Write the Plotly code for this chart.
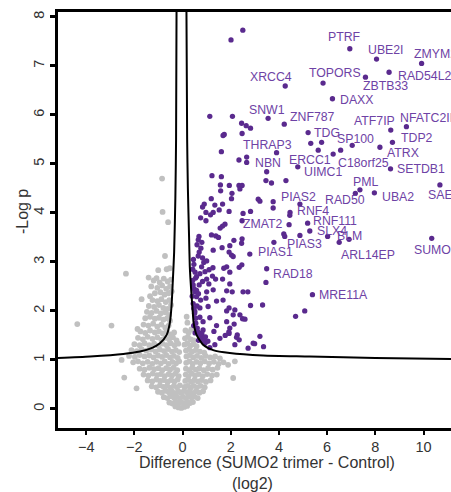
import plotly.graph_objects as go

# ---------------- data ----------------
gray_pts = [
    (-4.37, 1.73), (-2.95, 1.70), (-2.35, 2.76), (-0.85, 4.70), (-0.83, 4.02), (-0.60, 3.81),
    (-0.73, 3.12), (-1.01, 2.83), (-0.66, 2.85), (-0.53, 2.87), (-1.41, 2.68), (-1.08, 2.67),
    (-2.42, 0.64), (-1.91, 0.42), (-2.53, 1.00), (-1.87, 1.63), (-1.70, 2.24), (2.17, 0.97),
    (2.10, 0.63), (1.89, 0.90),
    (-1.20, 2.62), (-0.95, 2.58), (-0.78, 2.66), (-0.62, 2.60), (-0.48, 2.64),
    (-1.30, 2.50), (-1.05, 2.47), (-0.85, 2.52), (-0.68, 2.45), (-0.52, 2.50), (-0.45, 2.40),
    (-1.15, 2.36), (-0.92, 2.38), (-0.75, 2.33), (-0.58, 2.36), (-1.35, 2.30),
    (-1.25, 2.22), (-1.05, 2.20), (-0.88, 2.24), (-0.70, 2.18), (-0.55, 2.22), (-0.48, 2.12),
    (-1.40, 2.10), (-1.18, 2.08), (-0.98, 2.12), (-0.80, 2.06), (-0.62, 2.04),
    (-1.48, 1.98), (-1.28, 1.96), (-1.08, 2.00), (-0.90, 1.95), (-0.72, 1.97), (-0.56, 1.92),
    (-1.55, 1.85), (-1.35, 1.88), (-1.15, 1.84), (-0.98, 1.86), (-0.80, 1.82), (-0.64, 1.85), (-0.52, 1.80),
    (-1.62, 1.72), (-1.42, 1.70), (-1.22, 1.74), (-1.05, 1.68), (-0.88, 1.72), (-0.72, 1.66), (-0.58, 1.70),
    (0.17, 1.88), (0.20, 1.76),
    (-1.75, 1.58), (-1.55, 1.55), (-1.35, 1.60), (-1.15, 1.56), (-0.98, 1.58), (-0.82, 1.54), (-0.66, 1.58),
    (-0.50, 1.52), (-0.35, 1.56), (0.12, 1.60), (0.25, 1.56), (0.36, 1.62),
    (-1.85, 1.45), (-1.65, 1.42), (-1.45, 1.47), (-1.25, 1.43), (-1.05, 1.46), (-0.88, 1.41), (-0.72, 1.45),
    (-0.56, 1.42), (-0.40, 1.46), (-0.25, 1.40), (0.10, 1.44), (0.22, 1.47), (0.34, 1.42), (0.46, 1.40),
    (-2.00, 1.32), (-1.78, 1.30), (-1.58, 1.34), (-1.38, 1.30), (-1.18, 1.33), (-1.00, 1.29), (-0.83, 1.33),
    (-0.66, 1.30), (-0.50, 1.34), (-0.34, 1.30), (-0.18, 1.33), (0.08, 1.31), (0.20, 1.34), (0.32, 1.29),
    (0.45, 1.32), (0.58, 1.28),
    (-2.12, 1.20), (-1.90, 1.18), (-1.70, 1.22), (-1.50, 1.19), (-1.30, 1.21), (-1.12, 1.17), (-0.94, 1.21),
    (-0.77, 1.18), (-0.60, 1.22), (-0.44, 1.17), (-0.28, 1.20), (-0.14, 1.16), (0.14, 1.19), (0.27, 1.22),
    (0.40, 1.17), (0.55, 1.20), (0.72, 1.17), (0.90, 1.15),
    (-2.22, 1.08), (-1.98, 1.06), (-1.78, 1.10), (-1.58, 1.07), (-1.38, 1.09), (-1.20, 1.05), (-1.02, 1.09),
    (-0.85, 1.06), (-0.68, 1.10), (-0.52, 1.05), (-0.36, 1.08), (-0.20, 1.04), (0.16, 1.07), (0.30, 1.10),
    (0.44, 1.05), (0.60, 1.08), (0.78, 1.04), (0.96, 1.08), (1.15, 1.05), (1.35, 1.07), (1.55, 1.03),
    (-2.05, 0.95), (-1.85, 0.97), (-1.65, 0.93), (-1.45, 0.96), (-1.26, 0.92), (-1.08, 0.96), (-0.90, 0.93),
    (-0.74, 0.97), (-0.58, 0.92), (-0.42, 0.96), (-0.27, 0.93), (-0.14, 0.97), (0.15, 0.94), (0.28, 0.97),
    (0.42, 0.92), (0.58, 0.96), (0.74, 0.93), (0.92, 0.97), (1.10, 0.93), (1.30, 0.96), (1.50, 0.92), (1.70, 0.95),
    (-1.78, 0.82), (-1.58, 0.80), (-1.38, 0.84), (-1.18, 0.81), (-1.00, 0.83), (-0.84, 0.79), (-0.68, 0.83),
    (-0.52, 0.80), (-0.37, 0.84), (-0.22, 0.79), (0.14, 0.82), (0.27, 0.79), (0.40, 0.84), (0.55, 0.80),
    (0.70, 0.83), (0.88, 0.79), (1.06, 0.83), (1.25, 0.80), (1.45, 0.84),
    (-1.62, 0.70), (-1.42, 0.68), (-1.24, 0.72), (-1.06, 0.69), (-0.90, 0.71), (-0.74, 0.67), (-0.58, 0.71),
    (-0.44, 0.68), (-0.30, 0.72), (-0.16, 0.67), (0.13, 0.70), (0.25, 0.67), (0.38, 0.72), (0.52, 0.68),
    (0.67, 0.71), (0.84, 0.67), (1.02, 0.71), (1.22, 0.68), (1.42, 0.70),
    (-1.45, 0.58), (-1.26, 0.56), (-1.09, 0.60), (-0.93, 0.57), (-0.77, 0.59), (-0.62, 0.55), (-0.48, 0.59),
    (-0.34, 0.56), (-0.20, 0.60), (0.11, 0.57), (0.23, 0.60), (0.35, 0.55), (0.49, 0.59), (0.64, 0.56),
    (0.80, 0.59), (0.97, 0.55), (1.16, 0.58),
    (-1.28, 0.46), (-1.10, 0.44), (-0.94, 0.48), (-0.79, 0.45), (-0.64, 0.47), (-0.50, 0.43), (-0.36, 0.47),
    (-0.23, 0.44), (-0.11, 0.48), (0.09, 0.45), (0.21, 0.47), (0.33, 0.43), (0.46, 0.47), (0.60, 0.44),
    (0.75, 0.47), (0.92, 0.44),
    (-1.02, 0.35), (-0.86, 0.33), (-0.71, 0.37), (-0.57, 0.34), (-0.44, 0.36), (-0.31, 0.32), (-0.18, 0.36),
    (-0.06, 0.33), (0.06, 0.37), (0.18, 0.34), (0.30, 0.36), (0.42, 0.32), (0.55, 0.36), (0.70, 0.33), (0.85, 0.36),
    (-0.78, 0.24), (-0.63, 0.22), (-0.49, 0.26), (-0.36, 0.23), (-0.23, 0.25), (-0.11, 0.21), (0.01, 0.25),
    (0.13, 0.22), (0.25, 0.26), (0.37, 0.23), (0.50, 0.25), (0.63, 0.22),
    (-0.55, 0.13), (-0.42, 0.11), (-0.29, 0.15), (-0.17, 0.12), (-0.05, 0.14), (0.07, 0.11), (0.19, 0.15),
    (0.31, 0.12), (0.43, 0.14),
    (-0.30, 0.05), (-0.17, 0.03), (-0.05, 0.02), (0.07, 0.04), (0.19, 0.06),
]

purple_pts = [
    (2.50, 7.73), (2.01, 7.53), (1.13, 5.97), (2.07, 5.97), (2.45, 5.83), (2.64, 5.78), (2.82, 5.73),
    (1.73, 5.60), (1.68, 5.58), (2.47, 5.62), (6.56, 5.28), (5.32, 5.42), (5.77, 5.44), (1.61, 5.25),
    (2.34, 5.08), (2.66, 5.14), (3.49, 4.84), (3.46, 4.66), (3.69, 4.61), (4.29, 4.66), (1.22, 4.76),
    (1.61, 4.74), (1.57, 4.57), (1.94, 4.56), (2.34, 4.56), (2.47, 4.56), (2.38, 4.49), (1.58, 4.45),
    (2.05, 4.40), (2.03, 4.29), (1.19, 4.29), (3.14, 4.28), (3.21, 4.24), (4.87, 4.18), (0.90, 4.18),
    (0.83, 4.12), (1.34, 4.16), (1.66, 4.18), (1.52, 4.06), (1.93, 4.03), (1.27, 4.01), (1.16, 3.96),
    (0.97, 4.01), (2.82, 4.03), (2.51, 3.99), (3.76, 4.10), (4.45, 3.95), (0.97, 3.84), (2.47, 3.84),
    (1.76, 3.77), (1.66, 3.73), (1.56, 3.69), (1.20, 3.55), (1.38, 3.53), (1.49, 3.50), (0.68, 3.52),
    (2.13, 3.44), (2.47, 3.47), (2.45, 3.38), (1.96, 3.33), (1.64, 3.29), (4.20, 3.57), (4.24, 3.52),
    (3.79, 3.40), (6.91, 3.46), (0.76, 3.28), (0.69, 3.20), (1.27, 3.24), (1.93, 3.20), (2.03, 3.14),
    (2.10, 3.11), (0.65, 3.12), (0.83, 3.08), (0.88, 2.99), (1.00, 3.02), (0.79, 2.90), (1.83, 2.90),
    (1.71, 2.87), (2.46, 2.94), (2.35, 2.89), (1.26, 2.88), (1.10, 2.84), (0.52, 2.79), (0.93, 2.80),
    (0.72, 2.76), (1.24, 2.71), (1.96, 2.79), (0.54, 2.67), (0.83, 2.60), (1.00, 2.65), (1.37, 2.65),
    (1.66, 2.65), (0.44, 2.53), (0.69, 2.53), (1.09, 2.55), (1.96, 2.55), (2.06, 2.39), (1.83, 2.41),
    (2.51, 2.39), (2.71, 2.39), (3.46, 2.58), (1.27, 2.43), (1.00, 2.39), (0.51, 2.39), (0.58, 2.29),
    (0.75, 2.22), (1.41, 2.20), (1.68, 2.22), (0.97, 2.26), (1.06, 2.09), (0.72, 2.06), (2.82, 2.11),
    (3.32, 2.12), (2.17, 2.02), (1.83, 2.00), (2.38, 1.92), (2.49, 1.84), (0.51, 1.99), (0.55, 1.85),
    (0.72, 1.87), (0.85, 1.78), (1.13, 1.86), (1.41, 1.70), (1.83, 1.78), (1.96, 1.65), (1.30, 1.58),
    (0.85, 1.61), (0.83, 1.48), (0.61, 1.65), (1.93, 1.54), (2.27, 1.51), (3.21, 1.48), (2.93, 1.34),
    (2.72, 1.24), (2.35, 1.41), (1.55, 1.44), (1.34, 1.31), (0.93, 1.34), (1.13, 1.25), (5.07, 2.00),
    (4.69, 1.89), (3.36, 1.27), (2.99, 1.33), (2.17, 1.31), (1.77, 1.50), (2.24, 1.46), (1.92, 1.57),
    (2.14, 1.73), (2.10, 1.92), (2.59, 1.83), (1.93, 2.06),
    (0.45, 3.05), (0.47, 2.95), (0.42, 2.62), (0.48, 2.45), (0.40, 2.30), (0.44, 2.15), (0.47, 2.05),
    (0.50, 1.95), (0.55, 1.75), (0.62, 1.58), (0.70, 1.50), (0.78, 1.42), (0.90, 1.38), (0.60, 3.35),
    (0.65, 3.45), (0.80, 3.40), (0.75, 3.90), (0.42, 2.85), (0.58, 2.70), (0.46, 1.70), (0.60, 2.10),
    (0.52, 1.55), (0.66, 1.40), (0.80, 1.55), (0.95, 1.47), (1.05, 1.38), (0.58, 2.42), (0.66, 2.35),
]

labeled_gene = ["PTRF", "UBE2I", "ZMYM2", "TOPORS", "ZBTB33", "RAD54L2", "XRCC4", "DAXX",
                "SNW1", "ZNF787", "TDG", "ATF7IP", "NFATC2IP", "TDP2", "ATRX", "SP100",
                "C18orf25", "ERCC1", "UIMC1", "THRAP3", "NBN", "PML", "RAD50", "UBA2",
                "SAE1", "SETDB1", "PIAS2", "RNF4", "ZMAT2", "RNF111", "SLX4", "BLM",
                "PIAS3", "ARL14EP", "PIAS1", "SUMO3", "RAD18", "MRE11A"]
labeled_x = [6.94, 8.05, 9.92, 5.83, 7.59, 8.57, 4.26, 6.22,
             3.55, 4.22, 5.21, 8.64, 9.29, 8.71, 8.19, 7.04,
             6.25, 5.63, 4.78, 3.90, 2.66, 7.36, 7.17, 7.96,
             10.68, 8.63, 3.76, 4.46, 4.42, 5.19, 5.28, 6.02,
             4.87, 6.50, 2.79, 10.34, 3.49, 5.39]
labeled_y = [7.35, 7.14, 7.05, 6.65, 6.77, 6.87, 6.59, 6.33,
             5.93, 5.81, 5.64, 5.69, 5.76, 5.44, 5.34, 5.38,
             5.20, 5.28, 4.94, 5.23, 5.03, 4.47, 4.40, 4.41,
             4.57, 4.90, 4.23, 4.01, 3.76, 3.79, 3.63, 3.52,
             3.54, 3.40, 3.16, 3.48, 2.86, 2.33]

# significance threshold curve
curve_left_x = [-5.17, -3.84, -2.46, -1.77, -1.29, -0.94, -0.66, -0.53, -0.46, -0.41, -0.35, -0.30, -0.27, -0.25]
curve_left_y = [1.04, 1.07, 1.12, 1.17, 1.24, 1.34, 1.51, 1.75, 2.09, 2.56, 3.20, 4.30, 5.50, 8.20]
curve_right_x = [0.16, 0.19, 0.22, 0.27, 0.30, 0.36, 0.42, 0.46, 0.58, 0.85, 1.27, 1.96, 3.34, 5.28, 8.00, 11.20]
curve_right_y = [8.20, 5.50, 4.50, 3.50, 2.90, 2.40, 2.00, 1.75, 1.51, 1.31, 1.20, 1.14, 1.09, 1.07, 1.04, 1.02]

x_ticks = [-4, -2, 0, 2, 4, 6, 8, 10]
y_ticks = [0, 1, 2, 3, 4, 5, 6, 7, 8]

# ---------------- label placement (pixel offsets, anchor) ----------------
label_style = {
    "PTRF": ("center", -5, 12), "UBE2I": ("center", 9, 9), "ZMYM2": ("left", -10, 9),
    "TOPORS": ("center", 12, 10), "ZBTB33": ("left", -4, -9), "RAD54L2": ("left", 7, -4),
    "XRCC4": ("center", -14, 9), "DAXX": ("left", 6, -1), "SNW1": ("center", -1, 8.5),
    "ZNF787": ("left", 4, 7), "TDG": ("left", 3.5, 0), "ATF7IP": ("center", -16, 9.5),
    "NFATC2IP": ("left", -8.5, 8.5), "TDP2": ("left", 6.5, 4), "ATRX": ("left", 5, -6),
    "SP100": ("center", 3.5, 6), "C18orf25": ("left", 2.5, -8.5), "ERCC1": ("center", -8, -9.5),
    "UIMC1": ("left", 4.5, -5.5), "THRAP3": ("center", -9.5, 7.5), "NBN": ("left", 6.5, -0.5),
    "PML": ("center", 5.5, 7.5), "RAD50": ("center", -10, -6.5), "UBA2": ("left", 5.5, -4),
    "SAE1": ("left", -14, -10.5), "SETDB1": ("left", 4.5, 0), "PIAS2": ("left", 6, 4.5),
    "RNF4": ("left", 4.5, 1), "ZMAT2": ("right", -4.5, 0.5), "RNF111": ("left", 3, 2.5),
    "SLX4": ("left", 5, 0), "BLM": ("left", 7, 0), "PIAS3": ("center", 5, -9),
    "ARL14EP": ("left", 0, -12.5), "PIAS1": ("left", 6, 2), "SUMO3": ("left", -19.5, -11.5),
    "RAD18": ("left", 4, -5.5), "MRE11A": ("left", 4.5, 0),
}

FONT = "Liberation Sans, Arial, Helvetica, sans-serif"
GRAY = "#c0c0c0"
PURPLE = "#5a2a8e"
LABEL_COLOR = "#6e42a5"

fig = go.Figure()
fig.add_trace(go.Scatter(
    x=[p[0] for p in gray_pts], y=[p[1] for p in gray_pts], mode="markers",
    marker=dict(color=GRAY, size=5.8, line=dict(width=0)), hoverinfo="skip"))
fig.add_trace(go.Scatter(
    x=[p[0] for p in purple_pts] + labeled_x, y=[p[1] for p in purple_pts] + labeled_y,
    mode="markers", marker=dict(color=PURPLE, size=5.3, line=dict(width=0)), hoverinfo="skip"))
fig.add_trace(go.Scatter(x=curve_left_x, y=curve_left_y, mode="lines",
                         line=dict(color="black", width=2, shape="spline", smoothing=0.6), hoverinfo="skip"))
fig.add_trace(go.Scatter(x=curve_right_x, y=curve_right_y, mode="lines",
                         line=dict(color="black", width=2, shape="spline", smoothing=0.6), hoverinfo="skip"))

for g, gx, gy in zip(labeled_gene, labeled_x, labeled_y):
    anchor, dx, dy = label_style[g]
    fig.add_annotation(x=gx, y=gy, text=g, showarrow=False, xanchor=anchor, yanchor="middle",
                       xshift=dx, yshift=dy, font=dict(family=FONT, size=12.3, color=LABEL_COLOR))

# axis titles
fig.add_annotation(xref="paper", yref="paper", x=0.532, y=-0.083, text="Difference (SUMO2 trimer - Control)",
                   showarrow=False, xanchor="center", yanchor="middle",
                   font=dict(family=FONT, size=16, color="#333333"))
fig.add_annotation(xref="paper", yref="paper", x=0.494, y=-0.133, text="(log2)",
                   showarrow=False, xanchor="center", yanchor="middle",
                   font=dict(family=FONT, size=16, color="#333333"))
fig.add_annotation(xref="paper", yref="paper", x=-0.0916, y=0.519, text="-Log p", textangle=-90,
                   showarrow=False, xanchor="center", yanchor="middle",
                   font=dict(family=FONT, size=16, color="#333333"))

fig.update_layout(
    width=451, height=492, margin=dict(l=58, r=0, t=12, b=64),
    plot_bgcolor="white", paper_bgcolor="white", showlegend=False,
    font=dict(family=FONT, color="#333333"),
)
fig.update_xaxes(range=[-5.17, 11.14], tickvals=x_ticks, ticks="outside", ticklen=4, tickwidth=1.5,
                 tickcolor="black", showline=True, linewidth=2.5, linecolor="black", mirror=True,
                 showgrid=False, zeroline=False, tickfont=dict(family=FONT, size=14.5, color="#333333"))
fig.update_yaxes(range=[-0.39, 8.10], tickvals=y_ticks, tickangle=-90, ticks="outside", ticklen=5,
                 tickwidth=2.5, tickcolor="black", showline=True, linewidth=2.5, linecolor="black",
                 showgrid=False, zeroline=False, tickfont=dict(family=FONT, size=14.5, color="#333333"))

fig.write_html("out.html", config={"displayModeBar": False},
               post_script="document.body.style.margin='0';document.body.style.padding='0';")
